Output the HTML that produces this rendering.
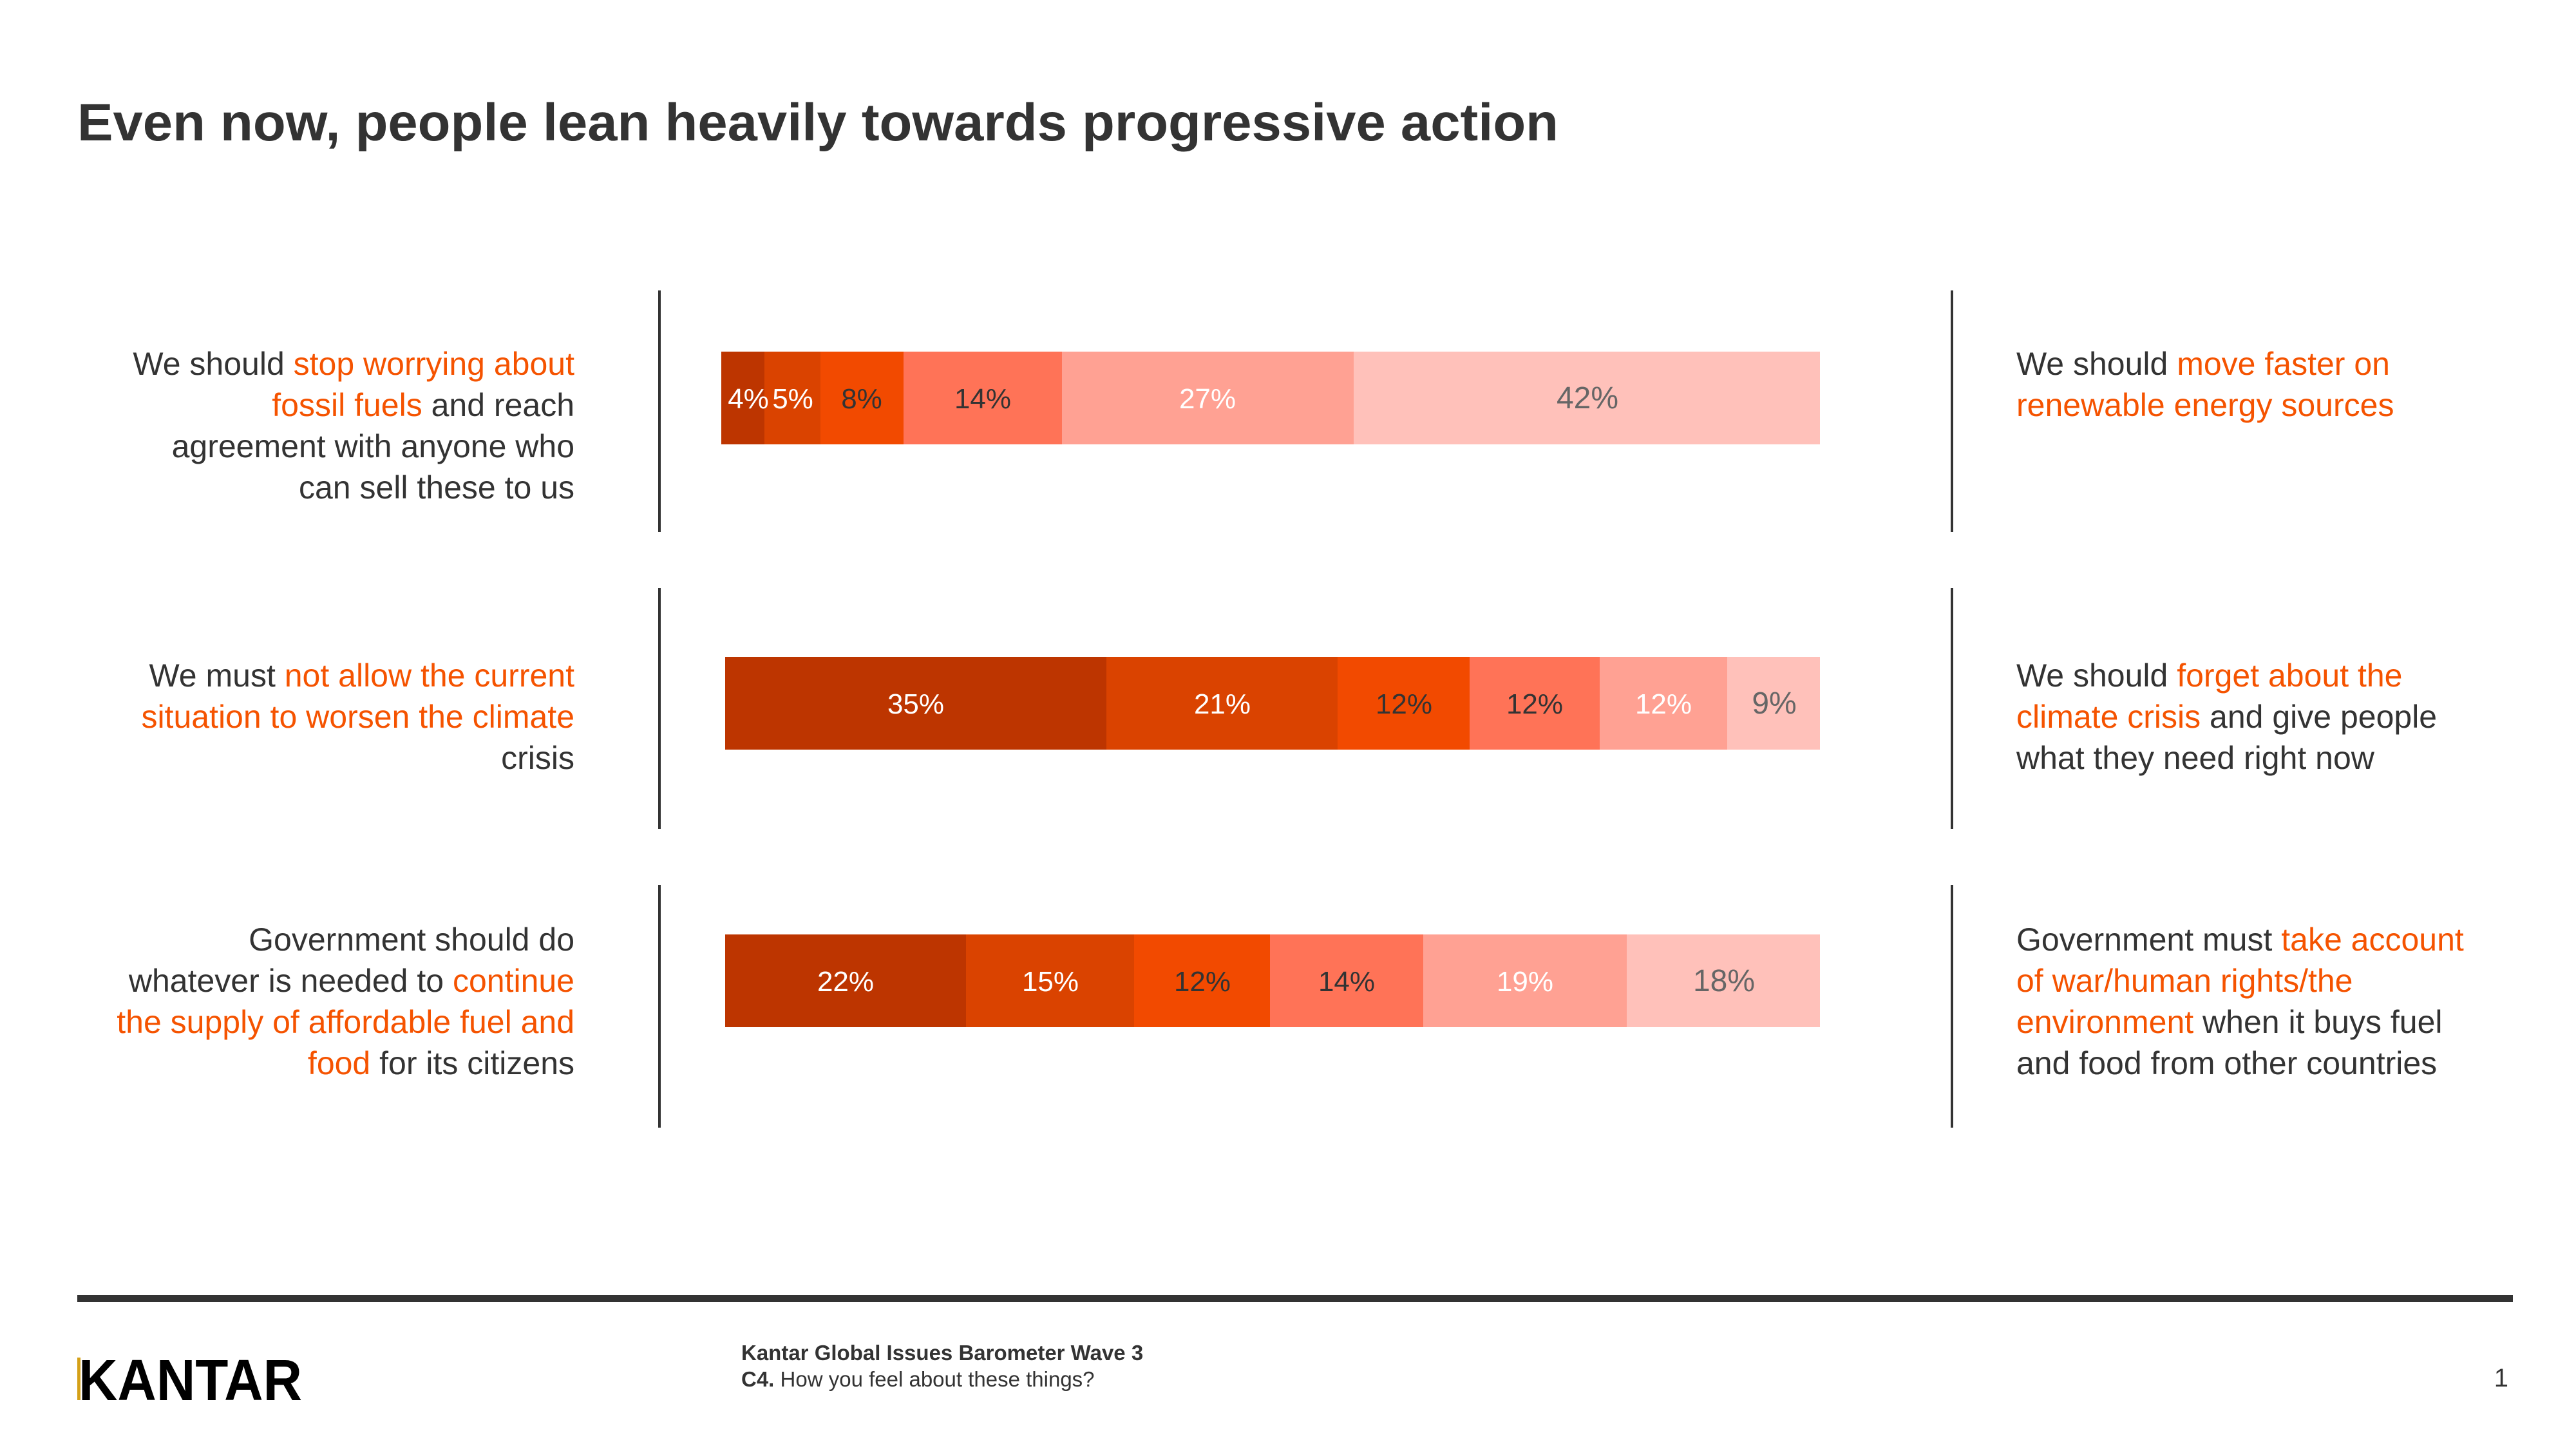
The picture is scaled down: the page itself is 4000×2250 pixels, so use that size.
<!DOCTYPE html>
<html><head><meta charset="utf-8"><style>
html,body{margin:0;padding:0;background:#fff;}
svg{display:block;font-family:"Liberation Sans",Arial,sans-serif;}
.o{fill:#F55300;}
.t{fill:#333;font-size:50px;}
.b{font-size:44px;text-anchor:middle;}
</style></head><body>
<svg width="4000" height="2250" viewBox="0 0 4000 2250" xmlns="http://www.w3.org/2000/svg">
<text x="120" y="218" font-size="82" font-weight="bold" fill="#333" textLength="2300" lengthAdjust="spacingAndGlyphs">Even now, people lean heavily towards progressive action</text>

<g fill="#333">
<rect x="1022" y="451" width="4" height="375"/><rect x="1022" y="913" width="4" height="374"/><rect x="1022" y="1374" width="4" height="377"/>
<rect x="3029" y="451" width="4" height="375"/><rect x="3029" y="913" width="4" height="374"/><rect x="3029" y="1374" width="4" height="377"/>
</g>

<!-- Bar 1 -->
<rect x="1120" y="546" width="67" height="144" fill="#BD3500"/>
<rect x="1187" y="546" width="87" height="144" fill="#DA4300"/>
<rect x="1274" y="546" width="129" height="144" fill="#F24A00"/>
<rect x="1403" y="546" width="246" height="144" fill="#FF7357"/>
<rect x="1649" y="546" width="453" height="144" fill="#FFA193"/>
<rect x="2102" y="546" width="724" height="144" fill="#FFC1BA"/>
<g class="b">
<text x="1162" y="634" fill="#fff">4%</text><text x="1231" y="634" fill="#fff">5%</text>
<text x="1338" y="634" fill="#333">8%</text><text x="1526" y="634" fill="#333">14%</text>
<text x="1875" y="634" fill="#fff">27%</text><text x="2465" y="634" fill="#666" font-size="48">42%</text>
</g>

<!-- Bar 2 -->
<rect x="1126" y="1020" width="592" height="144" fill="#BD3500"/>
<rect x="1718" y="1020" width="359" height="144" fill="#DA4300"/>
<rect x="2077" y="1020" width="205" height="144" fill="#F24A00"/>
<rect x="2282" y="1020" width="202" height="144" fill="#FF7357"/>
<rect x="2484" y="1020" width="198" height="144" fill="#FFA193"/>
<rect x="2682" y="1020" width="144" height="144" fill="#FFC1BA"/>
<g class="b">
<text x="1422" y="1108" fill="#fff">35%</text><text x="1898" y="1108" fill="#fff">21%</text>
<text x="2180" y="1108" fill="#333">12%</text><text x="2383" y="1108" fill="#333">12%</text>
<text x="2583" y="1108" fill="#fff">12%</text><text x="2755" y="1108" fill="#666" font-size="48">9%</text>
</g>

<!-- Bar 3 -->
<rect x="1126" y="1451" width="374" height="144" fill="#BD3500"/>
<rect x="1500" y="1451" width="261" height="144" fill="#DA4300"/>
<rect x="1761" y="1451" width="211" height="144" fill="#F24A00"/>
<rect x="1972" y="1451" width="238" height="144" fill="#FF7357"/>
<rect x="2210" y="1451" width="316" height="144" fill="#FFA193"/>
<rect x="2526" y="1451" width="300" height="144" fill="#FFC1BA"/>
<g class="b">
<text x="1313" y="1539" fill="#fff">22%</text><text x="1631" y="1539" fill="#fff">15%</text>
<text x="1867" y="1539" fill="#333">12%</text><text x="2091" y="1539" fill="#333">14%</text>
<text x="2368" y="1539" fill="#fff">19%</text><text x="2677" y="1539" fill="#666" font-size="48">18%</text>
</g>

<!-- Left texts -->
<g class="t" text-anchor="end">
<text x="892" y="582">We should <tspan class="o">stop worrying about</tspan></text>
<text x="892" y="646"><tspan class="o">fossil fuels</tspan> and reach</text>
<text x="892" y="710">agreement with anyone who</text>
<text x="892" y="774">can sell these to us</text>

<text x="892" y="1066">We must <tspan class="o">not allow the current</tspan></text>
<text x="892" y="1130" class="o">situation to worsen the climate</text>
<text x="892" y="1194">crisis</text>

<text x="892" y="1476">Government should do</text>
<text x="892" y="1540">whatever is needed to <tspan class="o">continue</tspan></text>
<text x="892" y="1604" class="o">the supply of affordable fuel and</text>
<text x="892" y="1668"><tspan class="o">food</tspan> for its citizens</text>
</g>

<!-- Right texts -->
<g class="t">
<text x="3131" y="582">We should <tspan class="o">move faster on</tspan></text>
<text x="3131" y="646" class="o">renewable energy sources</text>

<text x="3131" y="1066">We should <tspan class="o">forget about the</tspan></text>
<text x="3131" y="1130"><tspan class="o">climate crisis</tspan> and give people</text>
<text x="3131" y="1194">what they need right now</text>

<text x="3131" y="1476">Government must <tspan class="o">take account</tspan></text>
<text x="3131" y="1540" class="o">of war/human rights/the</text>
<text x="3131" y="1604"><tspan class="o">environment</tspan> when it buys fuel</text>
<text x="3131" y="1668">and food from other countries</text>
</g>

<!-- Footer -->
<rect x="120" y="2011" width="3782" height="11" fill="#333"/>
<rect x="120" y="2108" width="5" height="66" fill="#D4A017"/>
<text x="122" y="2174" font-size="90" font-weight="bold" fill="#000" textLength="347" lengthAdjust="spacingAndGlyphs">KANTAR</text>
<text x="1151" y="2112" font-size="33" font-weight="bold" fill="#333">Kantar Global Issues Barometer Wave 3</text>
<text x="1151" y="2153" font-size="33" fill="#333"><tspan font-weight="bold">C4.</tspan> How you feel about these things?</text>
<text x="3895" y="2153" font-size="40" fill="#333" text-anchor="end">1</text>
</svg>
</body></html>
